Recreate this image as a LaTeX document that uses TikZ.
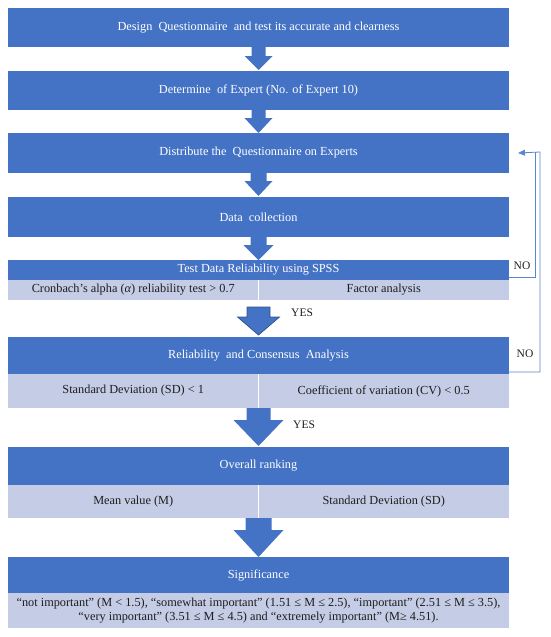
\documentclass[tikz,border=0pt]{standalone}
\usepackage{fontspec}
\setmainfont{Liberation Serif}
\usetikzlibrary{arrows.meta,calc}
\definecolor{hblue}{HTML}{4472C4}
\definecolor{lblue}{HTML}{C5CCE5}
\definecolor{dblue}{HTML}{2F528F}
\definecolor{lineblue}{HTML}{5A85CF}
\definecolor{txt}{HTML}{1E1E1E}
% #1 from node, #2 to node, #3 top gap, #4 bottom gap, #5 shaft half, #6 head half, #7 head length, #8 style
\newcommand\blockarrow[8]{%
  \path[#8] let \p1=(#1.south), \p2=(#2.north) in
    (\x2-#5pt,\y1-#3pt) -- (\x2+#5pt,\y1-#3pt) -- (\x2+#5pt,\y2+#4pt+#7pt)
    -- (\x2+#6pt,\y2+#4pt+#7pt) -- (\x2,\y2+#4pt) -- (\x2-#6pt,\y2+#4pt+#7pt)
    -- (\x2-#5pt,\y2+#4pt+#7pt) -- cycle;}
\begin{document}
\begin{tikzpicture}[x=1pt,y=-1pt,
  hdr/.style={fill=hblue, text=white, minimum width=501pt, inner sep=0pt, outer sep=0pt,
    anchor=north, font=\fontsize{12.3}{14}\selectfont},
  subl/.style={fill=lblue, text=txt, minimum width=250.5pt, inner sep=0pt, outer sep=0pt,
    anchor=north west, font=\fontsize{12.3}{14}\selectfont},
  subr/.style={subl, anchor=north east},
  subw/.style={fill=lblue, text=txt, minimum width=501pt, inner sep=0pt, outer sep=0pt,
    anchor=north, align=center, font=\fontsize{12.3}{13.5}\selectfont},
  arr/.style={fill=hblue},
  arro/.style={fill=hblue, draw=dblue, line width=0.7pt},
  fb/.style={draw=lineblue, line width=0.8pt},
  lab/.style={text=txt, inner sep=0pt, font=\fontsize{11.5}{13}\selectfont}
]
\useasboundingbox (0,0) rectangle (550,637);

\node[hdr, minimum height=39pt] (b1) at (258.5,8) {Design\ \ Questionnaire\ \ and test its accurate and clearness};
\node[hdr, minimum height=39pt] (b2) at (258.5,71) {Determine\ \ of Expert (No. of Expert 10)};
\node[hdr, minimum height=40pt] (b3) at (258.5,133) {Distribute the\ \ Questionnaire on Experts};
\node[hdr, minimum height=40pt] (b4) at (258.5,197) {Data\ \ collection};

\node[hdr, minimum height=20pt] (h5) at (258.5,260) {Test Data Reliability using SPSS};
\node[subl, minimum height=20pt] (s5l) at (8,280) {Cronbach's alpha ({\itshape α}) reliability test > 0.7};
\node[subr, minimum height=20pt] (s5r) at (509,280) {Factor analysis};

\node[hdr, minimum height=37pt] (h6) at (258.5,337) {Reliability\ \ and Consensus\ \ Analysis};
\node[subl, minimum height=34pt] (s6l) at (8,374) {Standard Deviation (SD) < 1};
\node[subr, minimum height=34pt] (s6r) at (509,374) {Coefficient of variation (CV) < 0.5};

\node[hdr, minimum height=38pt] (h7) at (258.5,447) {Overall ranking};
\node[subl, minimum height=33pt] (s7l) at (8,485) {Mean value (M)};
\node[subr, minimum height=33pt] (s7r) at (509,485) {Standard Deviation (SD)};

\node[hdr, minimum height=36pt] (h8) at (258.5,557) {Significance};
\node[subw, minimum height=35pt] (s8) at (258.5,593) {“not important” (M < 1.5), “somewhat important” (1.51 ≤ M ≤ 2.5), “important” (2.51 ≤ M ≤ 3.5),\\ “very important” (3.51 ≤ M ≤ 4.5) and “extremely important” (M≥ 4.51).};

% dividers in the sub rows
\draw[white, line width=0.6pt] (s5l.north east) -- (s5l.south east);
\draw[white, line width=0.6pt] (s6l.north east) -- (s6l.south east);
\draw[white, line width=0.6pt] (s7l.north east) -- (s7l.south east);

% block arrows
\blockarrow{b1}{b2}{0}{1}{7}{14}{14}{arr}
\blockarrow{b2}{b3}{0}{0}{7}{14}{15}{arr}
\blockarrow{b3}{b4}{0}{1}{8}{14}{15}{arr}
\blockarrow{b4}{h5}{0}{0}{8}{15}{15}{arr}
\node[lab, anchor=west] (yes1) at (291,313) {YES};
\blockarrow{s5l}{h6}{7}{2}{11.5}{21}{18}{arro}
\node[lab, anchor=west] (yes2) at (293,425) {YES};
\blockarrow{s6l}{h7}{0}{1}{12}{25}{26}{arr}
\blockarrow{s7l}{h8}{0}{0}{13}{25}{27}{arr}

% feedback connectors
\coordinate (t1) at ($(b3.east)+(9,0)$);
\draw[fb] ($(h5.south east)+(0,-3)$) -| (535,152);
\draw[fb, -{Triangle[length=7pt,width=6pt]}] ($(h6.south east)+(0,-2)$) -| (540,152) -- (t1);
\node[lab, anchor=center] (no1) at (522,266) {NO};
\node[lab, anchor=center] (no2) at (525,354) {NO};
\end{tikzpicture}
\end{document}
